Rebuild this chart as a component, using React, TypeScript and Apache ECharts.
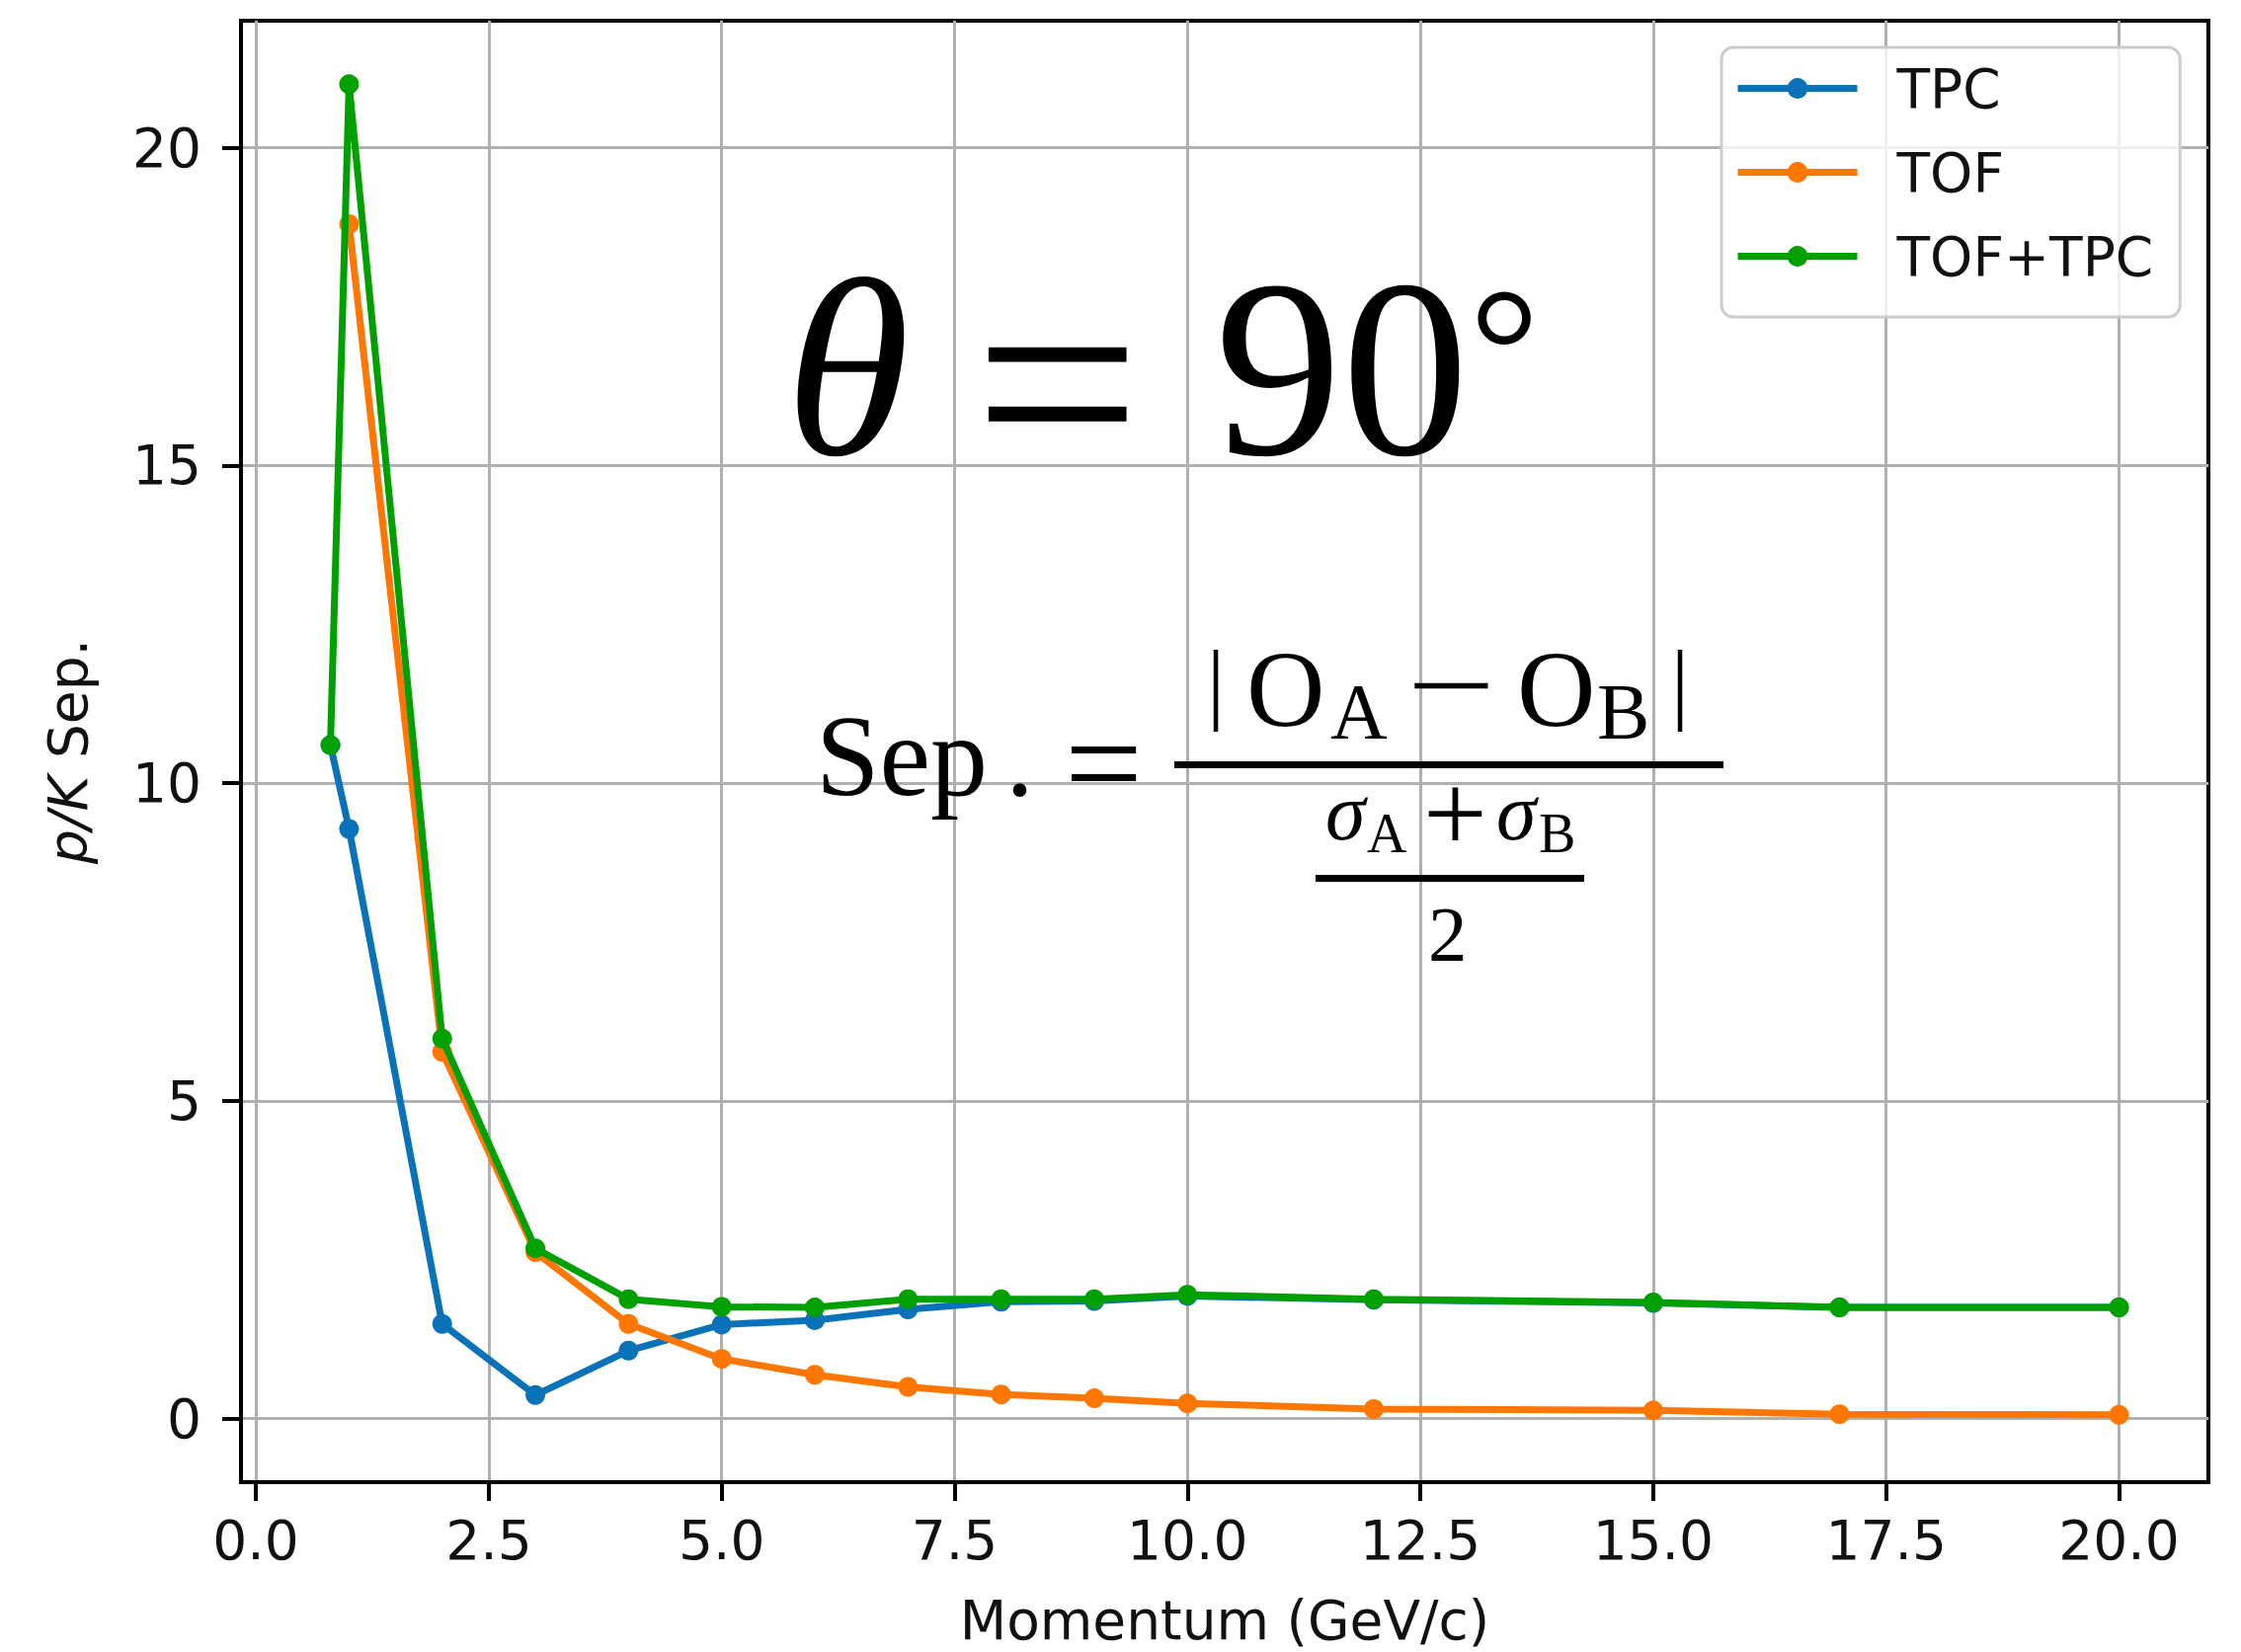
import React, { useEffect, useRef } from 'react';
import * as echarts from 'echarts';

// ---- data ----
const momentumTPC = [0.8, 1, 2, 3, 4, 5, 6, 7, 8, 9, 10, 12, 15, 17, 20];
const sepTPC = [10.6, 9.28, 1.49, 0.37, 1.07, 1.48, 1.55, 1.72, 1.84, 1.85, 1.93, 1.87, 1.82, 1.75, 1.75];
const momentumTOF = [1, 2, 3, 4, 5, 6, 7, 8, 9, 10, 12, 15, 17, 20];
const sepTOF = [18.8, 5.77, 2.62, 1.49, 0.94, 0.69, 0.5, 0.38, 0.32, 0.24, 0.15, 0.13, 0.07, 0.06];
const momentumComb = [0.8, 1, 2, 3, 4, 5, 6, 7, 8, 9, 10, 12, 15, 17, 20];
const sepComb = [10.6, 21.0, 5.98, 2.68, 1.88, 1.76, 1.75, 1.88, 1.88, 1.88, 1.95, 1.88, 1.83, 1.75, 1.75];
const seriesNames = ['TPC', 'TOF', 'TOF+TPC'];
const seriesColors = ['#0a72b8', '#ff7700', '#00a000'];
const xTicks = [0, 2.5, 5, 7.5, 10, 12.5, 15, 17.5, 20];
const yTicks = [0, 5, 10, 15, 20];

const zip = (xs: number[], ys: number[]) => xs.map((x, i) => [x, ys[i]]);

const SERIF = 'Liberation Serif';
const SANS = 'DejaVu Sans';
const FS = 55;

// text placed by its alphabetic baseline (central baseline = 0.3375 em above baseline for Liberation Serif)
function t(text: string, x: number, baseline: number, size: number, italic = false, sx = 1) {
  return {
    type: 'text',
    z: 100,
    x,
    y: baseline - 0.3375 * size,
    scaleX: sx,
    style: {
      text,
      x: 0,
      y: 0,
      fontFamily: SERIF,
      fontSize: size,
      lineHeight: Math.round(size * 0.8),
      fontStyle: italic ? 'italic' : 'normal',
      fill: '#000',
      align: 'left',
      verticalAlign: 'middle',
    },
  };
}

function bar(x: number, y: number, w: number, h: number) {
  return { type: 'rect', z: 100, shape: { x, y, width: w, height: h }, style: { fill: '#000' } };
}

export default function App() {
  const ref = useRef<HTMLDivElement>(null);
  useEffect(() => {
    if (!ref.current) return;
    const chart = echarts.init(ref.current, undefined, { renderer: 'svg' });
    const lineSeries = [
      zip(momentumTPC, sepTPC),
      zip(momentumTOF, sepTOF),
      zip(momentumComb, sepComb),
    ].map((data, i) => ({
      name: seriesNames[i],
      type: 'line',
      data,
      symbol: 'circle',
      symbolSize: 20,
      showSymbol: true,
      color: seriesColors[i],
      lineStyle: { width: 7, color: seriesColors[i] },
      itemStyle: { color: seriesColors[i] },
      z: 3 + i,
    }));

    const tickStyle = { fontFamily: SANS, fontSize: FS, color: '#111' };

    chart.setOption({
      animation: false,
      backgroundColor: '#fff',
      grid: {
        left: 244,
        top: 21,
        right: 33,
        bottom: 172,
        show: true,
        borderColor: '#000',
        borderWidth: 4,
        backgroundColor: 'transparent',
      },
      xAxis: {
        type: 'value',
        min: -0.16,
        max: 20.96,
        name: 'Momentum (GeV/c)',
        nameLocation: 'middle',
        nameGap: 112,
        nameTextStyle: { fontFamily: SANS, fontSize: FS, color: '#111' },
        axisLine: { show: true, onZero: false, lineStyle: { color: '#000', width: 4 } },
        axisTick: { show: true, inside: false, length: 19, customValues: xTicks, lineStyle: { color: '#000', width: 4 } },
        axisLabel: {
          ...tickStyle,
          margin: 31,
          customValues: xTicks,
          formatter: (v: number) => v.toFixed(1),
        },
        splitLine: { show: true, lineStyle: { color: '#b0b0b0', width: 3 } },
      },
      yAxis: {
        type: 'value',
        min: -1,
        max: 22,
        name: '{i|p/K} Sep.',
        nameLocation: 'middle',
        nameGap: 148,
        nameTextStyle: {
          fontFamily: SANS,
          fontSize: FS,
          color: '#111',
          rich: { i: { fontFamily: SANS, fontSize: FS, fontStyle: 'italic', color: '#111' } },
        },
        axisLine: { show: true, onZero: false, lineStyle: { color: '#000', width: 4 } },
        axisTick: { show: true, inside: false, length: 19, customValues: yTicks, lineStyle: { color: '#000', width: 4 } },
        axisLabel: { ...tickStyle, margin: 40, customValues: yTicks },
        splitLine: { show: true, lineStyle: { color: '#b0b0b0', width: 3 } },
      },
      legend: {
        orient: 'vertical',
        left: 1743,
        top: 48,
        itemWidth: 121,
        itemHeight: 26,
        itemGap: 30,
        padding: [14, 27, 34, 13],
        backgroundColor: 'rgba(255,255,255,0.8)',
        borderColor: '#cccccc',
        borderWidth: 3,
        borderRadius: 12,
        textStyle: { fontFamily: SANS, fontSize: FS, color: '#111', padding: [0, 0, 0, 35] },
        lineStyle: { width: 7 },
        data: seriesNames,
      },
      series: lineSeries,
      graphic: [
        // theta = 90 deg
        t('θ', 795, 460, 257, true),
        t('=', 986, 489, 300),
        t('90', 1230, 460, 257),
        t('°', 1488, 413, 176),
        // Sep. = |O_A - O_B| / ((sigma_A + sigma_B)/2)
        t('Sep', 826, 805, 116),
        t('.', 1018, 805, 116),
        t('=', 1078, 820, 140),
        bar(1189, 771, 556, 7),
        t('|', 1222, 722, 90),
        t('O', 1262, 735, 110),
        t('A', 1347, 748, 80),
        t('−', 1424, 731, 110, false, 1.45),
        t('O', 1536, 735, 110),
        t('B', 1617, 748, 80),
        t('|', 1692, 722, 90),
        t('σ', 1342, 850, 82, true),
        t('A', 1384, 863, 56),
        t('+', 1441, 862, 115),
        t('σ', 1515, 850, 82, true),
        t('B', 1558, 863, 56),
        bar(1332, 886, 272, 7),
        t('2', 1446, 972, 79),
      ],
    });
    return () => chart.dispose();
  }, []);
  return (
    <div
      ref={ref}
      style={{ position: 'absolute', left: 0, top: 0, width: 2269, height: 1673, background: '#fff' }}
    />
  );
}
